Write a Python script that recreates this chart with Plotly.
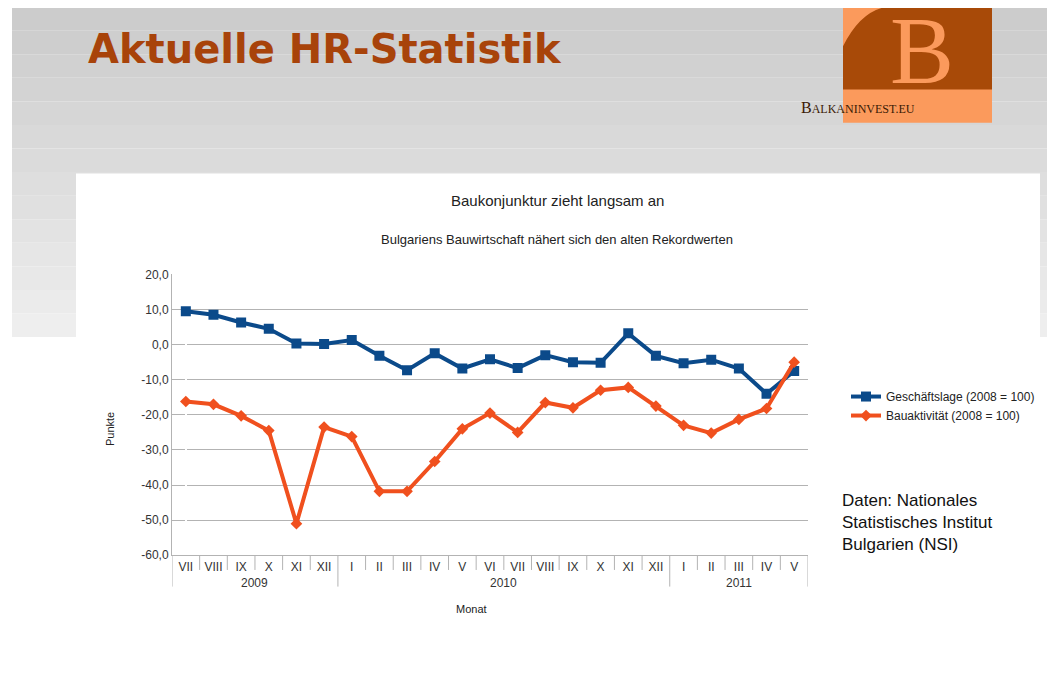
import plotly.graph_objects as go

years = ["2009", "2010", "2011"]
year_counts = [6, 12, 5]
months = ["VII","VIII","IX","X","XI","XII","I","II","III","IV","V","VI","VII","VIII","IX","X","XI","XII","I","II","III","IV","V"]
geschaeft = [9.5,8.5,6.3,4.5,0.3,0.2,1.3,-3.2,-7.3,-2.5,-6.8,-4.2,-6.7,-3.0,-5.0,-5.2,3.2,-3.2,-5.3,-4.3,-6.8,-14.0,-7.5]
bau = [-16.2,-17.0,-20.3,-24.5,-51.0,-23.5,-26.2,-41.8,-41.8,-33.3,-24.0,-19.5,-25.0,-16.5,-18.0,-13.0,-12.2,-17.5,-23.0,-25.2,-21.3,-18.2,-5.0]
yticks = [20,10,0,-10,-20,-30,-40,-50,-60]

W, H = 1042, 659
def px(x): return (x - 8) / W
def py(y): return 1 - (y - 8) / H

idx = list(range(len(months)))
fig = go.Figure()
fig.add_trace(go.Scatter(x=idx, y=geschaeft, name="Geschäftslage (2008 = 100)",
                         mode="lines+markers", line=dict(color="#0b4a8a", width=4),
                         marker=dict(symbol="square", size=10, color="#0b4a8a")))
fig.add_trace(go.Scatter(x=idx, y=bau, name="Bauaktivität (2008 = 100)",
                         mode="lines+markers", line=dict(color="#f0501e", width=4),
                         marker=dict(symbol="diamond", size=9, color="#f0501e")))

shapes = []
n = 14
for i in range(n):
    y0 = py(i * 337 / n); y1 = py((i + 1) * 337 / n)
    g = int(0xcc + (0xee - 0xcc) * i / (n - 1))
    shapes.append(dict(type="rect", xref="paper", yref="paper", x0=px(12), x1=px(1047), y0=y1, y1=y0,
                       fillcolor=f"rgb({g},{g},{g})", line_width=0, layer="below"))
shapes.append(dict(type="rect", xref="paper", yref="paper", x0=px(76), x1=px(1040), y0=py(675), y1=py(170),
                   fillcolor="white", line_width=0, layer="below"))
# logo
shapes.append(dict(type="rect", xref="paper", yref="paper", x0=px(843), x1=px(992), y0=py(118), y1=py(0),
                   fillcolor="#fb9a5c", line_width=0))
shapes.append(dict(type="rect", xref="paper", yref="paper", x0=px(843), x1=px(992), y0=py(84), y1=py(0),
                   fillcolor="#a84a08", line_width=0))
shapes.append(dict(type="path", xref="paper", yref="paper",
                   path=f"M {px(843)},{py(84)} L {px(843)},{py(40)} Q {px(860)},{py(5)} {px(885)},{py(0)} L {px(843)},{py(0)} Z",
                   fillcolor="#fb9a5c", line_width=0))
bounds = [-0.5]
for c in year_counts:
    bounds.append(bounds[-1] + c)
for k in range(len(months) + 1):
    xv = k - 0.5
    big = xv in bounds
    shapes.append(dict(type="line", xref="x", yref="paper", x0=xv, x1=xv, y0=py(560),
                       y1=py(592 if big else 575), line=dict(color="#b3b3b3", width=1)))

annotations = [
    dict(text="<b>Aktuelle HR-Statistik</b>", x=px(86), y=py(43), xref="paper", yref="paper",
         xanchor="left", yanchor="middle", showarrow=False, font=dict(size=40, color="#a8430a", family="DejaVu Sans")),
    dict(text="B", x=px(956), y=py(44), xref="paper", yref="paper", showarrow=False, yanchor="middle",
         font=dict(size=96, color="#fb9a5c", family="Liberation Serif")),
    dict(text="B<span style='font-size:12px'>ALKANINVEST.EU</span>", x=px(917), y=py(103), xref="paper", yref="paper",
         showarrow=False, yanchor="middle", font=dict(size=16, color="#3a1a05", family="Liberation Serif")),
    dict(text="Baukonjunktur zieht langsam an", x=px(557), y=py(198), xref="paper", yref="paper",
         showarrow=False, yanchor="middle", font=dict(size=15, color="#222", family="Liberation Sans")),
    dict(text="Bulgariens Bauwirtschaft nähert sich den alten Rekordwerten", x=px(557), y=py(237),
         xref="paper", yref="paper", showarrow=False, yanchor="middle", font=dict(size=13, color="#222", family="Liberation Sans")),
    dict(text="Daten: Nationales<br>Statistisches Institut<br>Bulgarien (NSI)", x=px(840), y=py(527),
         xref="paper", yref="paper", xanchor="left", yanchor="middle", align="left", showarrow=False,
         font=dict(size=17, color="#111", family="Liberation Sans")),
    dict(text="Monat", x=px(471), y=py(615), xref="paper", yref="paper", showarrow=False, yanchor="middle",
         font=dict(size=11, color="#222", family="Liberation Sans")),
    dict(text="Punkte", x=px(102), y=py(431), xref="paper", yref="paper", showarrow=False, textangle=-90,
         yanchor="middle", font=dict(size=11, color="#222", family="Liberation Sans")),
]
for k, (yr, c) in enumerate(zip(years, year_counts)):
    center = (bounds[k] + bounds[k + 1]) / 2
    annotations.append(dict(text=yr, x=center, y=py(588), xref="x", yref="paper", showarrow=False,
                            yanchor="middle", font=dict(size=12, color="#333")))

fig.update_layout(
    width=W, height=H, margin=dict(l=0, r=0, t=0, b=0),
    paper_bgcolor="white", plot_bgcolor="white",
    font=dict(family="Liberation Sans", size=12, color="#222"),
    shapes=shapes, annotations=annotations, showlegend=True,
    legend=dict(x=px(846), y=py(383), xanchor="left", yanchor="top", font=dict(size=12),
                bgcolor="rgba(0,0,0,0)", tracegroupgap=0, itemwidth=30),
    xaxis=dict(domain=[px(172), px(808)], range=[-0.5, len(months) - 0.5], tickvals=idx, ticktext=months,
               showline=True, linecolor="#b3b3b3", showgrid=False, ticks="", tickangle=0,
               tickfont=dict(size=12, color="#333")),
    yaxis=dict(domain=[py(560), py(273)], range=[-60, 20], tickvals=yticks,
               ticktext=[f"{v},0" for v in yticks], gridcolor="#b3b3b3", showline=True,
               linecolor="#b3b3b3", zeroline=False, tickfont=dict(size=12, color="#333")),
)
fig.write_html("out.html")
